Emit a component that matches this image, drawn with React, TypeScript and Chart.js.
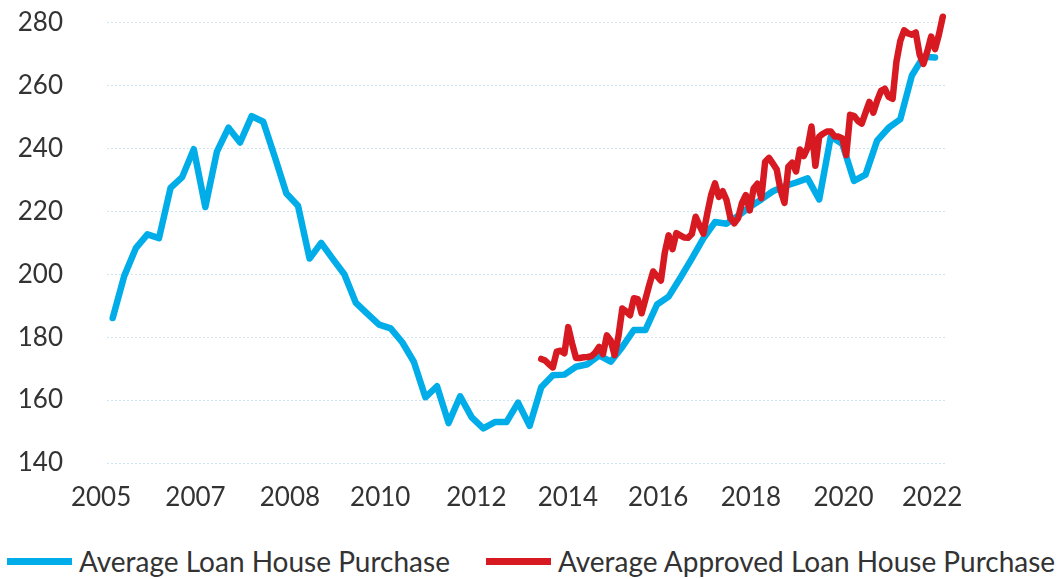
import React, { useEffect, useRef } from "react";
import { Chart, registerables } from "chart.js";

Chart.register(...registerables);

// Quarterly series (period index 0..71)
const blueLabel = "Average Loan House Purchase";
const blueValues = [
  186.1, 199.5, 208.3, 212.7, 211.5, 227.5, 230.9, 239.8, 221.4, 239.0,
  246.6, 241.9, 250.3, 248.5, 237.3, 225.7, 221.8, 205.0, 210.0, 204.9,
  200.0, 190.9, 187.4, 184.0, 182.8, 178.4, 172.2, 160.9, 164.4, 152.7,
  161.2, 154.5, 151.0, 153.0, 153.0, 159.2, 151.8, 164.1, 167.9, 168.1,
  170.6, 171.4, 174.2, 172.2, 176.9, 182.3, 182.3, 190.4, 192.9, 198.8,
  205.0, 211.4, 216.6, 216.1, 218.6, 221.4, 223.8, 226.4, 228.0, 229.2,
  230.5, 223.8, 243.8, 241.4, 229.7, 231.7, 242.5, 246.6, 249.3, 263.2,
  269.2, 268.9,
];

// Monthly series, starting at quarter period 37
const redLabel = "Average Approved Loan House Purchase";
const redStartPeriod = 37;
const redValues = [
  173.1, 172.6, 171.4, 170.4, 175.4, 175.7, 174.9, 183.2, 178.0, 173.4,
  173.4, 173.6, 173.7, 174.0, 175.1, 176.9, 174.6, 180.6, 178.9, 174.3,
  180.3, 189.1, 188.2, 187.0, 192.4, 192.1, 187.6, 192.1, 196.7, 200.9,
  199.4, 198.0, 206.9, 212.4, 208.0, 213.1, 212.4, 211.7, 211.6, 212.8,
  218.3, 215.5, 212.9, 219.3, 225.2, 228.9, 224.6, 226.4, 223.6, 217.9,
  216.2, 217.9, 222.7, 225.2, 220.3, 227.3, 228.8, 224.2, 235.8, 237.0,
  235.2, 233.3, 226.7, 222.7, 234.2, 235.5, 232.7, 239.7, 237.6, 240.3,
  247.0, 234.5, 243.8, 244.7, 245.4, 245.4, 243.8, 243.8, 243.2, 237.9,
  250.7, 250.4, 248.8, 247.9, 251.4, 254.8, 251.4, 255.2, 258.3, 259.0,
  256.4, 255.8, 267.6, 274.2, 277.6, 276.6, 276.2, 276.9, 269.9, 266.9,
  270.9, 275.6, 271.6, 276.2, 281.9,
];

// X axis tick labels and the period at which each sits
const xTickLabels = ["2005", "2007", "2008", "2010", "2012", "2014", "2016", "2018", "2020", "2022"];
const xTickPeriods = [-1, 7.15, 15.3, 23.1, 31.4, 39.3, 47.1, 55.1, 63.1, 70.75];

const yMin = 140;
const yMax = 280;
const yStep = 20;

const BLUE = "#00ade8";
const RED = "#d71a22";
const TEXT = "#333333";
const FONT = "Lato, 'Noto Sans', sans-serif";

export default function App() {
  const canvasRef = useRef<HTMLCanvasElement | null>(null);

  useEffect(() => {
    const canvas = canvasRef.current;
    if (!canvas) return;
    const bluePoints = blueValues.map((v, i) => ({ x: i, y: v }));
    const redPoints = redValues.map((v, i) => ({ x: redStartPeriod + i / 3, y: v }));

    const chart = new Chart(canvas, {
      type: "line",
      data: {
        datasets: [
          {
            label: blueLabel,
            data: bluePoints,
            borderColor: BLUE,
            backgroundColor: BLUE,
            borderWidth: 6.5,
            pointRadius: 0,
            tension: 0,
            borderJoinStyle: "round",
            borderCapStyle: "round",
            order: 2,
            clip: false,
          },
          {
            label: redLabel,
            data: redPoints,
            borderColor: RED,
            backgroundColor: RED,
            borderWidth: 6.5,
            pointRadius: 0,
            tension: 0,
            borderJoinStyle: "round",
            borderCapStyle: "round",
            order: 1,
            clip: false,
          },
        ],
      },
      options: {
        responsive: false,
        animation: false,
        layout: { padding: { top: 22.7, right: 117, left: 0, bottom: 0 } },
        plugins: { legend: { display: false }, tooltip: { enabled: false } },
        scales: {
          x: {
            type: "linear",
            min: -0.49,
            max: 71.86,
            grid: { display: false },
            border: { display: false },
            afterBuildTicks: (axis: any) => {
              axis.ticks = xTickPeriods.map((p) => ({ value: p }));
            },
            afterFit: (axis: any) => {
              axis.height = 67;
              axis.paddingLeft = 0;
              axis.paddingRight = 0;
            },
            ticks: {
              autoSkip: false,
              maxRotation: 0,
              padding: 11,
              color: TEXT,
              font: { family: FONT, size: 26 },
              callback: (_v: any, i: number) => xTickLabels[i],
            },
          },
          y: {
            min: yMin,
            max: yMax,
            afterFit: (axis: any) => {
              axis.width = 107;
              axis.paddingTop = 0;
              axis.paddingBottom = 0;
            },
            grid: { color: "#cfe5f3", lineWidth: 1, drawTicks: false },
            border: { display: false, dash: [2, 2] },
            ticks: {
              stepSize: yStep,
              padding: 44,
              color: TEXT,
              font: { family: FONT, size: 26 },
            },
          },
        },
      },
    });
    return () => chart.destroy();
  }, []);

  const legendItems = [
    { label: blueLabel, color: BLUE },
    { label: redLabel, color: RED },
  ];

  return (
    <div
      style={{
        position: "fixed",
        left: 0,
        top: 0,
        width: 1062,
        height: 579,
        background: "#ffffff",
        overflow: "hidden",
      }}
    >
      <canvas ref={canvasRef} width={1062} height={530} style={{ display: "block" }} />
      <div
        style={{
          position: "absolute",
          left: 0,
          top: 542,
          width: 1062,
          height: 38,
          display: "flex",
          alignItems: "center",
          justifyContent: "center",
          gap: 36,
          fontFamily: FONT,
          fontSize: 28,
          color: TEXT,
          whiteSpace: "nowrap",
        }}
      >
        {legendItems.map((it) => (
          <div key={it.label} style={{ display: "flex", alignItems: "center" }}>
            <span style={{ display: "inline-block", width: 65, height: 7, background: it.color, marginRight: 7 }} />
            <span>{it.label}</span>
          </div>
        ))}
      </div>
    </div>
  );
}
